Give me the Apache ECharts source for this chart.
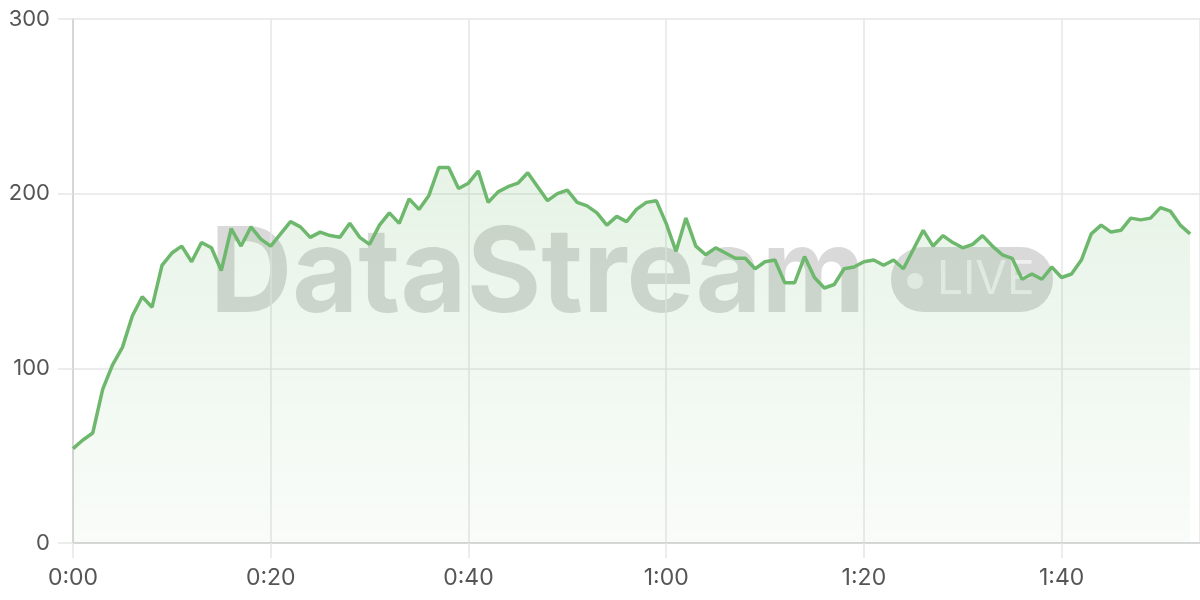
<!DOCTYPE html>
<html>
<head>
<meta charset="utf-8">
<script src="https://cdn.jsdelivr.net/npm/echarts@6/dist/echarts.min.js"></script>
<style>
  html, body { margin: 0; padding: 0; background: #fff; }
  #chart { width: 1200px; height: 600px; }
</style>
</head>
<body>
<div id="chart"></div>
<script>
// viewers per minute, 0:00 .. 1:53
var viewers = [
  54, 59, 63, 88, 102, 112, 130, 141, 135, 159,
  166, 170, 161, 172, 169, 156, 180, 170, 181, 174,
  170, 177, 184, 181, 175, 178, 176, 175, 183, 175,
  171, 182, 189, 183, 197, 191, 199, 215, 215, 203,
  206, 213, 195, 201, 204, 206, 212, 204, 196, 200,
  202, 195, 193, 189, 182, 187, 184, 191, 195, 196,
  183, 167, 186, 170, 165, 169, 166, 163, 163, 157,
  161, 162, 149, 149, 164, 152, 146, 148, 157, 158,
  161, 162, 159, 162, 157, 168, 179, 170, 176, 172,
  169, 171, 176, 170, 165, 163, 151, 154, 151, 158,
  152, 154, 162, 177, 182, 178, 179, 186, 185, 186,
  192, 190, 182, 177
];
var yTicks = [0, 100, 200, 300];

var myChart = echarts.init(document.getElementById('chart'));
var lineColor = '#6db86d';

var seriesData = viewers.map(function (v, i) { return [i, v]; });

var option = {
  animation: false,
  textStyle: { fontFamily: 'Inter, "Noto Sans", sans-serif' },
  grid: { left: 73, right: 0, top: 19, bottom: 57, containLabel: false },
  graphic: [
    {
      type: 'text', left: 210, top: 218, z: 0, scaleX: 0.965,
      style: {
        text: 'DataStream',
        font: 'bold 118px Inter, "Noto Sans", sans-serif',
        fill: 'rgba(0,0,0,0.15)'
      }
    },
    {
      type: 'rect', left: 891, top: 247, z: 0,
      shape: { width: 162, height: 65, r: 32 },
      style: { fill: 'rgba(0,0,0,0.15)' }
    },
    {
      type: 'circle', left: 907, top: 273, z: 1,
      shape: { r: 8 },
      style: { fill: 'rgba(255,255,255,0.6)' }
    },
    {
      type: 'text', left: 937, top: 257, z: 1,
      style: {
        text: 'LIVE',
        font: '46px Inter, "Noto Sans", sans-serif',
        fill: 'rgba(255,255,255,0.6)'
      }
    }
  ],
  xAxis: {
    type: 'value',
    min: 0,
    max: 114,
    interval: 20,
    axisLine: { lineStyle: { color: '#cfcfcf', width: 1.5 } },
    axisTick: { show: true, length: 15, lineStyle: { color: '#e6e6e6', width: 1.5 } },
    splitLine: { show: true, lineStyle: { color: '#e6e6e6', width: 1.5 } },
    axisLabel: {
      showMaxLabel: false,
      margin: 24,
      fontSize: 23,
      color: '#555',
      formatter: function (v) {
        var h = Math.floor(v / 60), m = v % 60;
        return h + ':' + (m < 10 ? '0' + m : m);
      }
    }
  },
  yAxis: {
    type: 'value',
    min: yTicks[0],
    max: yTicks[yTicks.length - 1],
    interval: 100,
    axisLine: { show: true, lineStyle: { color: '#cfcfcf', width: 1.5 } },
    axisTick: { show: true, length: 15, lineStyle: { color: '#e6e6e6', width: 1.5 } },
    splitLine: { show: true, lineStyle: { color: '#e6e6e6', width: 1.5 } },
    axisLabel: { margin: 23, fontSize: 22, color: '#555' }
  },
  series: [{
    type: 'line',
    data: seriesData,
    showSymbol: false,
    z: 2,
    lineStyle: { color: lineColor, width: 3.5 },
    itemStyle: { color: lineColor },
    areaStyle: {
      color: new echarts.graphic.LinearGradient(0, 0, 0, 1, [
        { offset: 0, color: 'rgba(111,185,111,0.24)' },
        { offset: 1, color: 'rgba(111,185,111,0.06)' }
      ])
    }
  }]
};

myChart.setOption(option);
window.addEventListener('resize', function () { myChart.resize(); });
</script>
</body>
</html>
